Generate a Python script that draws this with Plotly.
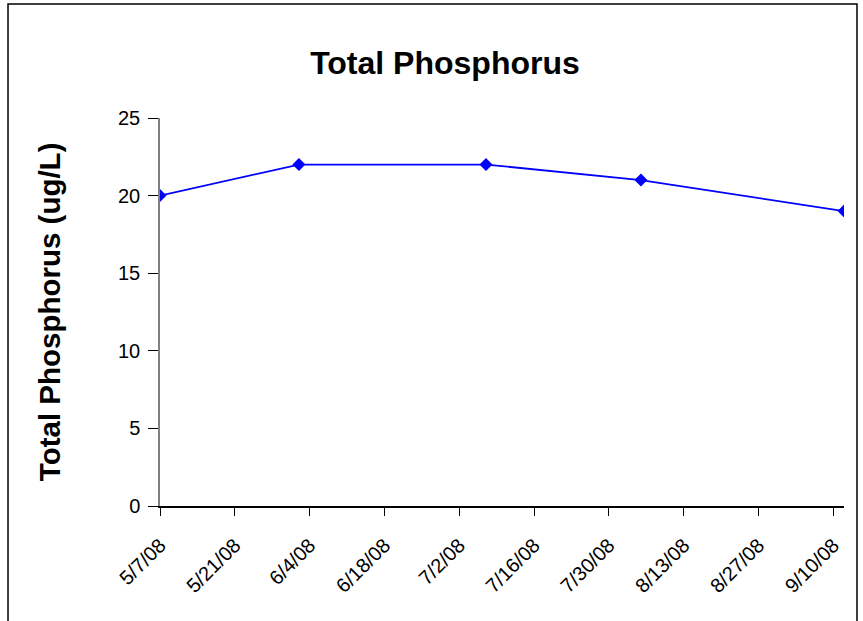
import plotly.graph_objects as go

# datos
fechas = ['2008-05-07', '2008-06-02', '2008-07-07', '2008-08-05', '2008-09-12']
fosforo = [20, 22, 22, 21, 19]

y_ticks = [0, 5, 10, 15, 20, 25]
DIA_MS = 86400000

FUENTE = 'Liberation Sans, Arial, sans-serif'

fig = go.Figure()
fig.add_trace(go.Scatter(
    x=fechas, y=fosforo,
    mode='lines+markers',
    line=dict(color='#0000FF', width=1.8),
    marker=dict(symbol='diamond', size=10, color='#0000FF'),
    showlegend=False,
))

fig.update_layout(
    width=863, height=621,
    paper_bgcolor='white', plot_bgcolor='white',
    font=dict(family=FUENTE, size=20, color='black'),
    margin=dict(l=160, r=19, t=118, b=115),
    title=dict(text='<b>Total Phosphorus</b>', x=0.5156, xref='container', xanchor='center',
               y=0.8986, yref='container', yanchor='middle',
               font=dict(size=32, family=FUENTE, color='black')),
    xaxis=dict(
        type='date',
        range=['2008-05-07', '2008-09-12'],
        tick0='2008-05-07', dtick=14 * DIA_MS,
        tickformat='%-m/%-d/%y', tickangle=-45,
        showline=True, linecolor='black', linewidth=1.5,
        ticks='outside', ticklen=8, tickcolor='black',
        ticklabelstandoff=10,
        showgrid=False, zeroline=False,
    ),
    yaxis=dict(
        range=[0, 25], tickvals=y_ticks,
        showline=True, linecolor='#808080', linewidth=1.5,
        ticks='outside', ticklen=10, tickcolor='black',
        ticklabelstandoff=4,
        showgrid=False, zeroline=False,
    ),
    annotations=[dict(
        text='<b>Total Phosphorus (ug/L)</b>', textangle=-90,
        x=-0.162, y=0.5, xref='paper', yref='paper',
        xanchor='center', yanchor='middle', showarrow=False,
        font=dict(size=29.5, family=FUENTE, color='black'),
    )],
    shapes=[dict(
        type='rect', xref='paper', yref='paper',
        x0=-0.2222, x1=1.019, y0=-0.5, y1=1.294,
        line=dict(color='black', width=1.5), fillcolor='rgba(0,0,0,0)',
    )],
)

fig.write_html('out.html', config={'displayModeBar': False},
               post_script="document.body.style.margin='0';")
